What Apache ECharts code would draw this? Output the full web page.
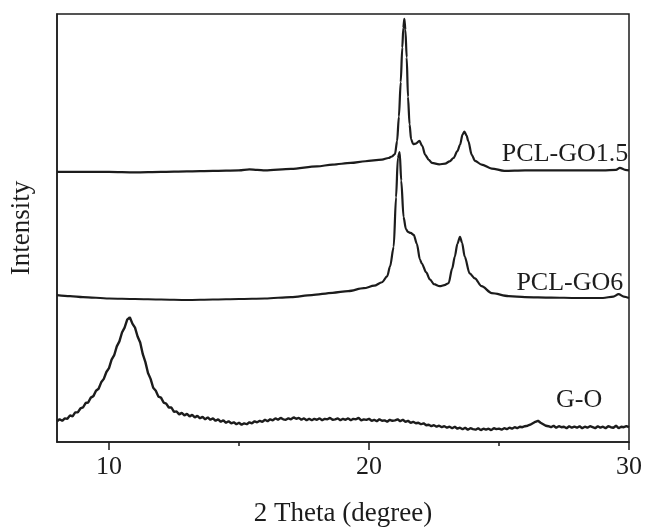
<!DOCTYPE html>
<html>
<head>
<meta charset="utf-8">
<script src="https://cdn.jsdelivr.net/npm/echarts@6/dist/echarts.min.js"></script>
<style>
  html, body { margin: 0; padding: 0; background: #fff; }
  #main { width: 645px; height: 532px; }
</style>
</head>
<body>
<div id="main"></div>
<script>
// PCL-GO1.5 (top curve), offset intensity
var go15X = [8, 9, 10, 11, 12, 13, 14, 15, 15.4, 15.7, 16, 17, 18, 18.6, 19.3, 19.86, 20.5, 20.75, 20.88, 21.0, 21.08, 21.15, 21.22, 21.28, 21.32, 21.36, 21.4, 21.45, 21.5, 21.56, 21.62, 21.7, 21.8, 21.94, 22.05, 22.16, 22.3, 22.42, 22.7, 22.93, 23.1, 23.25, 23.4, 23.5, 23.6, 23.67, 23.75, 23.82, 23.95, 24.08, 24.33, 24.72, 25.2, 26, 27, 28, 29, 29.5, 29.65, 29.85, 30];
var go15Y = [274, 274, 274, 273.5, 274, 274.5, 275, 275.5, 276.5, 276, 275.5, 277, 279.5, 281.3, 283, 284.7, 286.3, 288, 289.5, 292, 305, 330, 365, 400, 420, 429, 418, 390, 350, 322, 307, 302, 302.5, 305.3, 300, 291.3, 286, 283, 281.5, 282.3, 284.5, 288, 295, 301.3, 312, 314.7, 311, 305, 291.3, 285, 281.3, 277.3, 275, 275.5, 275.5, 275.5, 275.5, 276, 278, 276, 275.5];

// PCL-GO6 (middle curve)
var go6X = [8, 8.5, 9, 10, 11, 12, 13, 14, 15, 16, 17, 17.8, 18.6, 19.2, 19.8, 20.2, 20.5, 20.7, 20.81, 20.95, 21.04, 21.11, 21.18, 21.24, 21.33, 21.42, 21.5, 21.6, 21.72, 21.84, 21.96, 22.03, 22.2, 22.34, 22.5, 22.72, 22.9, 23.06, 23.2, 23.3, 23.4, 23.5, 23.58, 23.68, 23.87, 24.07, 24.33, 24.72, 25.37, 26, 27, 28, 29, 29.4, 29.6, 29.8, 30];
var go6Y = [149, 148, 147, 145.5, 145, 144.5, 144, 144.5, 145, 145.5, 147, 149, 151.3, 153, 156, 158.5, 162, 168, 178, 198, 248, 288, 294, 265, 228, 216, 213, 212, 210, 201, 185, 181, 172, 165, 160, 158, 159, 161, 176, 188, 201, 208, 202, 188, 171, 166, 158, 151, 148, 147, 146.5, 146, 146, 147.5, 150, 147.5, 146];

// G-O (bottom curve), sampled every 0.1 degree from 8 to 30
var gStart = 8, gStep = 0.1;
var gY = [
  21, 23, 21.5, 24, 23.5, 27, 26, 30, 30, 34,
  35, 39.5, 40, 45, 46.5, 52, 54, 60.5, 64, 71,
  75, 83.5, 88, 97, 102, 111, 116, 124, 126.5, 120,
  116, 107, 101, 89, 81, 70, 64, 55, 52, 46,
  45, 40, 39, 35, 35, 30.5, 31, 28, 29.5, 27,
  28.5, 26, 27.5, 25, 26.5, 24, 25.5, 23, 25, 22.5,
  24, 21.5, 23, 20.5, 22, 19.5, 21, 19, 20, 18,
  19.5, 17.5, 19, 18, 20, 19, 21, 20, 21.5, 20.5,
  22.5, 21, 23, 22, 24, 22.5, 24.5, 23, 22.5, 24,
  23, 25, 23.5, 24.5, 22.5, 24, 22, 23.5, 22, 23.5,
  22.5, 24, 22, 23.5, 23, 24.5, 22.5, 23, 24, 22,
  23.5, 22.5, 24, 22, 23.5, 23, 24.5, 22, 23, 22.5,
  23.5, 21.5, 22.5, 21, 23, 21.5, 22, 20.5, 22.5, 21.5,
  22, 23, 21, 22.5, 20.5, 21.5, 19.5, 20.5, 19, 19.5,
  18, 19, 17, 17.5, 16, 17, 15.5, 16.5, 15, 16,
  14.5, 15.5, 14, 15.5, 13.5, 14.5, 13, 14.5, 12.5, 14,
  13, 12.5, 14, 12, 13.5, 12.5, 13.5, 12, 14, 13,
  13.5, 12.5, 14, 13, 14.5, 13.5, 15, 14, 15.5, 15,
  16, 16.5, 17.5, 19, 20.5, 21.5, 19.5, 18, 16.5, 16,
  15, 16.5, 14.5, 16, 15, 15.5, 14, 16, 14.5, 15.5,
  14.5, 16, 14, 15.5, 14.5, 16, 15, 14, 16, 14.5,
  15.5, 14, 16, 15, 14.5, 16.5, 14, 15.5, 15, 16,
  15
];

var names = ['PCL-GO1.5', 'PCL-GO6', 'G-O'];
var labelX = [29.97, 29.78, 28.97];
var labelY = [292, 161, 42];
var majorTicks = [10, 20, 30];
var minorTicks = [15, 25];

function pairs(xs, ys) {
  var out = [];
  for (var i = 0; i < xs.length; i++) out.push([xs[i], ys[i]]);
  return out;
}
var gData = [];
for (var i = 0; i < gY.length; i++) {
  gData.push([+(gStart + i * gStep).toFixed(2), gY[i]]);
}

var font = 'Liberation Serif';
var ink = '#1c1c1c';

function curve(idx, data, smooth, width) {
  return {
    name: names[idx],
    type: 'line',
    data: data,
    showSymbol: false,
    smooth: smooth,
    smoothMonotone: 'x',
    lineStyle: { color: ink, width: width },
    silent: true,
    markPoint: {
      symbol: 'circle',
      symbolSize: 0,
      label: {
        show: true,
        position: 'left',
        distance: 0,
        formatter: names[idx],
        color: ink,
        fontFamily: font,
        fontSize: 26
      },
      data: [{ coord: [labelX[idx], labelY[idx]] }]
    }
  };
}

var myChart = echarts.init(document.getElementById('main'));
var option = {
  animation: false,
  backgroundColor: '#fff',
  grid: {
    left: 54, right: 16, top: 14, bottom: 84,
    show: true,
    borderColor: ink,
    borderWidth: 1.5
  },
  xAxis: [{
    type: 'value',
    min: 8,
    max: 30,
    name: '2 Theta (degree)',
    nameLocation: 'middle',
    nameGap: 58,
    nameTextStyle: { fontFamily: font, fontSize: 27, color: ink },
    axisLine: { show: true, lineStyle: { color: ink, width: 1.5 } },
    axisTick: { show: true, customValues: majorTicks, length: 8, lineStyle: { color: ink, width: 1.5 } },
    axisLabel: { customValues: majorTicks, fontFamily: font, fontSize: 26, color: ink, margin: 12 },
    splitLine: { show: false }
  }, {
    type: 'value',
    min: 8,
    max: 30,
    position: 'bottom',
    axisLine: { show: false },
    axisTick: { show: true, customValues: minorTicks, length: 4, lineStyle: { color: ink, width: 1.5 } },
    axisLabel: { show: false },
    splitLine: { show: false }
  }],
  yAxis: {
    type: 'value',
    min: 0,
    max: 434,
    name: 'Intensity',
    nameLocation: 'middle',
    nameGap: 22,
    nameTextStyle: { fontFamily: font, fontSize: 27, color: ink },
    axisLine: { show: true, lineStyle: { color: ink, width: 1.5 } },
    axisTick: { show: false },
    axisLabel: { show: false },
    splitLine: { show: false }
  },
  series: [
    curve(0, pairs(go15X, go15Y), 0.3, 2.2),
    curve(1, pairs(go6X, go6Y), 0.3, 2.2),
    curve(2, gData, false, 2.4)
  ]
};
myChart.setOption(option);
</script>
</body>
</html>
